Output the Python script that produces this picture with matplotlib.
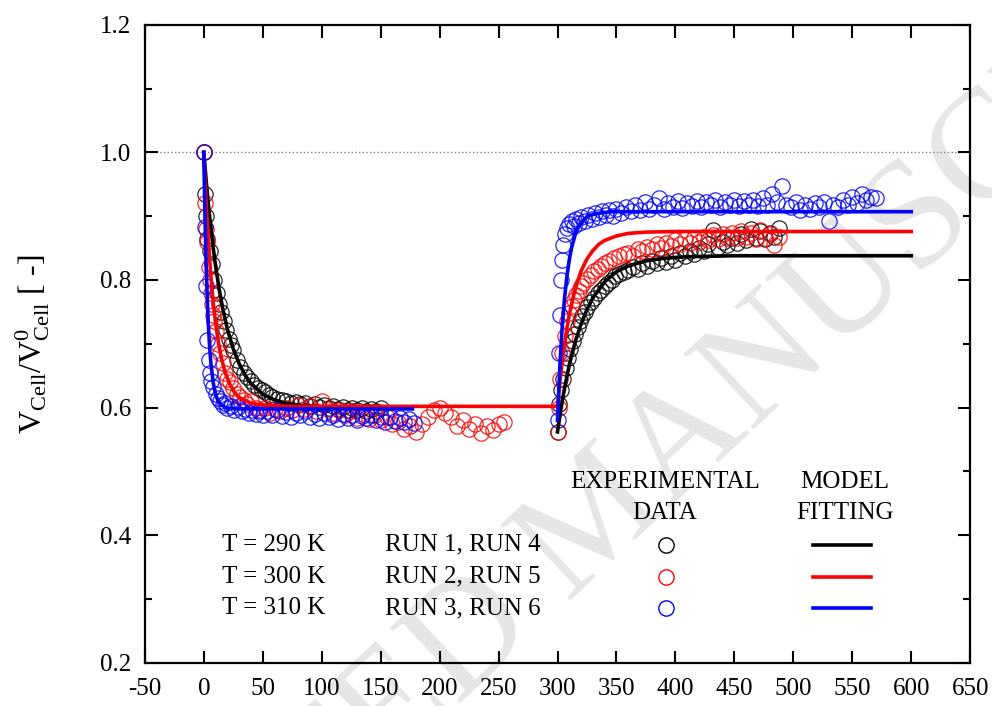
import numpy as np
import matplotlib
matplotlib.use('Agg')
import matplotlib.pyplot as plt

# Datos experimentales: etapa 1 (descenso desde t = 0 s)
t_290_1 = [0, 1, 2, 3, 5, 7, 9, 11, 13, 15, 17, 19, 21, 23, 25, 28, 31, 34, 37, 40,
           43, 46, 49, 52, 55, 58, 62, 66, 70, 74, 78, 82, 86, 90, 94, 98, 102, 106,
           110, 114, 118, 122, 126, 130, 134, 138, 142, 146, 150]
v_290_1 = [1.0, 0.935, 0.90, 0.865, 0.845, 0.825, 0.80, 0.78, 0.762, 0.75, 0.735,
           0.722, 0.708, 0.698, 0.69, 0.675, 0.664, 0.655, 0.648, 0.642, 0.636, 0.631,
           0.627, 0.624, 0.62, 0.617, 0.614, 0.612, 0.61, 0.607, 0.609, 0.605, 0.607,
           0.603, 0.606, 0.601, 0.604, 0.60, 0.603, 0.598, 0.601, 0.597, 0.60, 0.596,
           0.599, 0.595, 0.598, 0.594, 0.60]

t_300_1 = [0, 1, 2, 3, 4, 5, 6, 7, 8, 9, 10, 12, 14, 16, 18, 20, 22, 25, 28, 31, 34,
           37, 40, 44, 48, 52, 56, 60, 65, 70, 75, 80, 85, 90, 95, 100, 105, 110, 115,
           120, 125, 130, 135, 140, 145, 150, 155, 160, 165, 170, 175, 180, 185, 190,
           195, 200, 205, 210, 215, 220, 225, 230, 235, 240, 245, 250, 255]
v_300_1 = [1.0, 0.92, 0.88, 0.86, 0.82, 0.80, 0.78, 0.762, 0.745, 0.735, 0.72, 0.70,
           0.685, 0.67, 0.655, 0.645, 0.64, 0.63, 0.622, 0.616, 0.612, 0.606, 0.61, 0.60,
           0.596, 0.60, 0.592, 0.598, 0.594, 0.60, 0.596, 0.604, 0.598, 0.602, 0.594,
           0.61, 0.598, 0.592, 0.596, 0.588, 0.594, 0.584, 0.59, 0.582, 0.588, 0.58,
           0.585, 0.575, 0.578, 0.566, 0.572, 0.562, 0.575, 0.585, 0.597, 0.60, 0.592,
           0.586, 0.572, 0.58, 0.566, 0.574, 0.56, 0.572, 0.565, 0.575, 0.578]

t_310_1 = [0, 1, 2, 3, 4, 5, 6, 8, 10, 12, 14, 16, 18, 20, 23, 26, 29, 32, 35, 38, 41,
           44, 47, 50, 54, 58, 62, 66, 70, 74, 78, 82, 86, 90, 94, 98, 102, 106, 110,
           114, 118, 122, 126, 130, 134, 138, 142, 146, 150, 154, 158, 162, 166, 170,
           174, 178]
v_310_1 = [1.0, 0.883, 0.79, 0.706, 0.675, 0.655, 0.642, 0.632, 0.622, 0.615, 0.61,
           0.604, 0.607, 0.60, 0.603, 0.596, 0.601, 0.594, 0.598, 0.591, 0.597, 0.59,
           0.595, 0.588, 0.594, 0.589, 0.596, 0.587, 0.593, 0.586, 0.592, 0.588, 0.595,
           0.585, 0.59, 0.584, 0.592, 0.586, 0.589, 0.582, 0.59, 0.584, 0.588, 0.58,
           0.587, 0.583, 0.589, 0.58, 0.586, 0.578, 0.585, 0.579, 0.584, 0.577, 0.582,
           0.576]

# Datos experimentales: etapa 2 (recuperacion desde t = 300 s)
t_290_2 = [300, 301, 303, 305, 307, 309, 311, 313, 315, 317, 319, 321, 323, 325, 328,
           331, 334, 337, 340, 343, 346, 349, 352, 356, 360, 364, 368, 372, 376, 380,
           384, 388, 392, 396, 400, 404, 408, 412, 416, 420, 424, 428, 432, 436, 440,
           444, 448, 452, 456, 460, 464, 468, 472, 476, 480, 484, 488]
v_290_2 = [0.562, 0.605, 0.628, 0.645, 0.662, 0.678, 0.692, 0.705, 0.716, 0.726, 0.735,
           0.744, 0.75, 0.757, 0.765, 0.772, 0.78, 0.784, 0.79, 0.796, 0.80, 0.806,
           0.809, 0.812, 0.816, 0.82, 0.818, 0.826, 0.822, 0.83, 0.826, 0.834, 0.828,
           0.838, 0.832, 0.842, 0.838, 0.846, 0.84, 0.85, 0.845, 0.856, 0.878, 0.852,
           0.86, 0.855, 0.866, 0.858, 0.872, 0.862, 0.88, 0.866, 0.876, 0.864, 0.874,
           0.868, 0.882]

t_300_2 = [300, 301, 302, 304, 306, 308, 310, 312, 314, 316, 318, 320, 322, 325, 328,
           331, 334, 337, 340, 344, 348, 352, 356, 360, 364, 368, 372, 376, 380, 384,
           388, 392, 396, 400, 404, 408, 412, 416, 420, 424, 428, 432, 436, 440, 444,
           448, 452, 456, 460, 464, 468, 472, 476, 480, 484, 488]
v_300_2 = [0.562, 0.60, 0.645, 0.686, 0.712, 0.735, 0.748, 0.76, 0.768, 0.776, 0.782,
           0.79, 0.795, 0.802, 0.808, 0.814, 0.818, 0.822, 0.826, 0.83, 0.834, 0.838,
           0.84, 0.843, 0.838, 0.848, 0.845, 0.852, 0.848, 0.856, 0.85, 0.858, 0.854,
           0.862, 0.856, 0.864, 0.858, 0.866, 0.86, 0.868, 0.862, 0.87, 0.864, 0.872,
           0.866, 0.874, 0.866, 0.876, 0.868, 0.874, 0.864, 0.878, 0.866, 0.872, 0.855,
           0.868]

t_310_2 = [300, 301, 302, 303, 304, 305, 306, 308, 310, 312, 314, 316, 318, 320, 323,
           326, 329, 332, 335, 338, 341, 344, 347, 350, 354, 358, 362, 366, 370, 374,
           378, 382, 386, 390, 394, 398, 402, 406, 410, 414, 418, 422, 426, 430, 434,
           438, 442, 446, 450, 454, 458, 462, 466, 470, 474, 478, 482, 486, 490, 494,
           498, 502, 506, 510, 514, 518, 522, 526, 530, 534, 538, 542, 546, 550, 554,
           558, 562, 566, 570]
v_310_2 = [0.58, 0.686, 0.745, 0.80, 0.832, 0.855, 0.872, 0.882, 0.888, 0.893, 0.885,
           0.896, 0.89, 0.898, 0.893, 0.902, 0.896, 0.905, 0.899, 0.908, 0.902, 0.91,
           0.90, 0.912, 0.905, 0.915, 0.908, 0.918, 0.91, 0.922, 0.912, 0.918, 0.928,
           0.912, 0.92, 0.915, 0.924, 0.913, 0.92, 0.916, 0.924, 0.914, 0.922, 0.917,
           0.925, 0.915, 0.922, 0.918, 0.926, 0.916, 0.923, 0.918, 0.925, 0.916, 0.928,
           0.918, 0.935, 0.922, 0.948, 0.918, 0.915, 0.922, 0.91, 0.918, 0.912, 0.92,
           0.914, 0.922, 0.892, 0.918, 0.914, 0.925, 0.918, 0.93, 0.92, 0.935, 0.925,
           0.93, 0.928]

# Ajuste del modelo
tm_290_1 = [0, 2, 4, 6, 8, 10, 13, 16, 20, 25, 30, 35, 40, 50, 60, 70, 80, 100, 120, 150]
vm_290_1 = [1.0, 0.956, 0.916, 0.882, 0.85, 0.822, 0.786, 0.756, 0.723, 0.692, 0.669,
            0.651, 0.638, 0.621, 0.612, 0.607, 0.604, 0.601, 0.60, 0.60]
tm_290_2 = [300, 303, 306, 310, 315, 320, 325, 330, 340, 350, 360, 375, 390, 410, 450, 600]
vm_290_2 = [0.562, 0.599, 0.631, 0.667, 0.703, 0.731, 0.754, 0.772, 0.797, 0.813,
            0.822, 0.83, 0.834, 0.8365, 0.838, 0.838]

tm_300_1 = [0, 1, 2, 3, 4, 6, 8, 10, 12, 15, 18, 22, 26, 30, 40, 50, 70, 300]
vm_300_1 = [1.0, 0.958, 0.921, 0.887, 0.857, 0.806, 0.765, 0.733, 0.707, 0.677, 0.656,
            0.637, 0.624, 0.616, 0.607, 0.604, 0.602, 0.602]
tm_300_2 = [300, 302, 304, 306, 308, 310, 313, 316, 320, 325, 330, 335, 340, 350, 360,
            375, 400, 600]
vm_300_2 = [0.602, 0.64, 0.672, 0.70, 0.725, 0.745, 0.771, 0.792, 0.814, 0.833, 0.846,
            0.856, 0.862, 0.869, 0.873, 0.875, 0.876, 0.876]

tm_310_1 = [0, 1, 2, 3, 4, 5, 6, 8, 10, 12, 15, 20, 30, 177]
vm_310_1 = [1.0, 0.90, 0.825, 0.769, 0.726, 0.694, 0.67, 0.639, 0.621, 0.611, 0.604,
            0.599, 0.598, 0.598]
tm_310_2 = [300, 301, 302, 303, 304, 305, 306, 308, 310, 312, 315, 318, 322, 327, 333,
            345, 600]
vm_310_2 = [0.58, 0.625, 0.663, 0.697, 0.726, 0.75, 0.772, 0.806, 0.832, 0.851, 0.871,
            0.884, 0.894, 0.901, 0.904, 0.907, 0.907]

temperaturas = ['T = 290 K', 'T = 300 K', 'T = 310 K']
corridas = ['RUN 1, RUN 4', 'RUN 2, RUN 5', 'RUN 3, RUN 6']
colores = ['black', 'red', 'blue']


def grafico(datos, modelos):
    plt.rcParams['font.family'] = ['Liberation Serif', 'DejaVu Serif']
    plt.rcParams['mathtext.fontset'] = 'custom'
    plt.rcParams['mathtext.rm'] = 'Liberation Serif'
    plt.rcParams['mathtext.it'] = 'Liberation Serif:italic'
    plt.rcParams['axes.unicode_minus'] = False

    fig = plt.figure(figsize=(9.92, 7.06), dpi=100)
    ax = fig.add_axes([0.146, 0.061, 0.832, 0.904])
    ax.set_facecolor('none')

    # marca de agua
    fig.text(0.605, 0.262, 'ACCEPTED MANUSCRIPT', rotation=43, fontsize=112,
             color='#e6e6e6', ha='center', va='center', rotation_mode='anchor',
             zorder=-5)

    ax.axhline(1.0, color='gray', linestyle=':', linewidth=1, zorder=1)

    for (t, v), c in datos:
        ax.plot(t, v, 'o', mfc='none', mec=c, ms=11, mew=0.9, alpha=0.85, zorder=2)

    for (t, v), c in modelos:
        ax.plot(t, v, '-', color=c, linewidth=2.6, zorder=3)

    ax.set_xlim(-50, 650)
    ax.set_ylim(0.2, 1.2)
    ax.set_xticks(np.arange(-50, 651, 50))
    ax.set_yticks(np.arange(0.2, 1.21, 0.2))
    ax.set_yticks(np.arange(0.3, 1.2, 0.2), minor=True)
    ax.yaxis.set_major_formatter(plt.FormatStrFormatter('%.1f'))
    ax.tick_params(which='both', direction='in', top=True, right=True, width=1.5)
    ax.tick_params(which='major', length=9, labelsize=18)
    ax.tick_params(which='minor', length=5)
    ax.tick_params(axis='x', pad=11)
    ax.tick_params(axis='y', pad=10)
    for s in ax.spines.values():
        s.set_linewidth(1.6)

    ax.set_ylabel(r'V$_{\mathrm{Cell}}$/V$^{0}_{\mathrm{Cell}}$ [ -]', fontsize=23,
                  labelpad=34)

    # leyenda armada a mano
    tr = ax.transAxes
    ax.text(0.630, 0.284, 'EXPERIMENTAL', transform=tr, ha='center', va='center', fontsize=18)
    ax.text(0.630, 0.235, 'DATA', transform=tr, ha='center', va='center', fontsize=18)
    ax.text(0.848, 0.284, 'MODEL', transform=tr, ha='center', va='center', fontsize=18)
    ax.text(0.848, 0.235, 'FITTING', transform=tr, ha='center', va='center', fontsize=18)
    filas = [0.185, 0.135, 0.086]
    for y, temp, run, c in zip(filas, temperaturas, corridas, colores):
        ax.text(0.093, y, temp, transform=tr, ha='left', va='center', fontsize=18)
        ax.text(0.291, y, run, transform=tr, ha='left', va='center', fontsize=18)
        ax.plot([0.632], [y], 'o', mfc='none', mec=c, ms=11, mew=1, transform=tr)
        ax.plot([0.810, 0.880], [y, y], '-', color=c, linewidth=2.6, transform=tr)

    fig.savefig('out.png', dpi=100)


if __name__ == '__main__':
    datos = [((t_290_1, v_290_1), 'black'), ((t_290_2, v_290_2), 'black'),
             ((t_300_1, v_300_1), 'red'), ((t_300_2, v_300_2), 'red'),
             ((t_310_1, v_310_1), 'blue'), ((t_310_2, v_310_2), 'blue')]
    modelos = [((tm_290_1, vm_290_1), 'black'), ((tm_290_2, vm_290_2), 'black'),
               ((tm_300_1, vm_300_1), 'red'), ((tm_300_2, vm_300_2), 'red'),
               ((tm_310_1, vm_310_1), 'blue'), ((tm_310_2, vm_310_2), 'blue')]
    grafico(datos, modelos)
